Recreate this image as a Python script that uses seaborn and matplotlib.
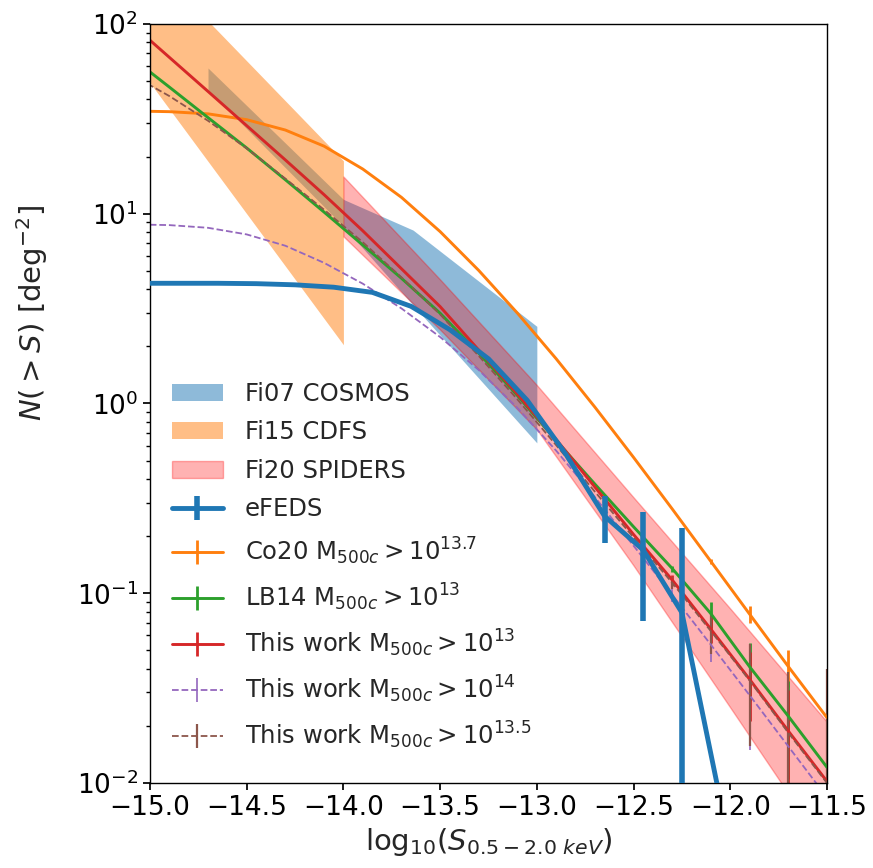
import numpy as np
import matplotlib
matplotlib.use("Agg")
import matplotlib.pyplot as plt
import seaborn as sns

# log10 flux grid of the model number counts
log_s = [-15.1, -14.9, -14.7, -14.5, -14.3, -14.1, -13.9, -13.7, -13.5, -13.3,
         -13.1, -12.9, -12.7, -12.5, -12.3, -12.1, -11.9, -11.7, -11.5]

co20_n = [34.8, 34.5, 33.6, 31.3, 27.6, 22.7, 17.2, 12.2, 8.05, 5.02,
          2.99, 1.72, 0.957, 0.52, 0.278, 0.147, 0.0776, 0.0411, 0.0221]
co20_err = [0] * 15 + [0.005, 0.008, 0.009, 0.0175]

lb14_n = [67.1, 46.5, 32.1, 22.2, 15.1, 10.2, 6.84, 4.57, 2.99, 1.84,
          1.10, 0.638, 0.376, 0.224, 0.135, 0.078, 0.041, 0.0225, 0.0121]
lb14_err = [0] * 14 + [0.005, 0.012, 0.014, 0.012, 0.01]

m13_n = [100.9, 66.7, 44.1, 29.1, 19.2, 12.6, 8.13, 5.13, 3.24, 1.91,
         1.12, 0.646, 0.363, 0.204, 0.1175, 0.0646, 0.0352, 0.0188, 0.0102]
m13_err = [0] * 14 + [0.008, 0.010, 0.014, 0.012, 0.01]

m14_n = [8.79, 8.71, 8.43, 7.78, 6.78, 5.51, 4.28, 3.17, 2.24, 1.50,
         0.946, 0.564, 0.321, 0.178, 0.098, 0.0535, 0.029, 0.0156, 0.0084]
m14_err = [0] * 14 + [0.008, 0.010, 0.014, 0.011, 0.01]

m135_n = [54.3, 41.7, 30.9, 22.1, 15.3, 10.5, 7.08, 4.62, 2.95, 1.78,
          1.05, 0.603, 0.343, 0.197, 0.1135, 0.0631, 0.0347, 0.0184, 0.0100]
m135_err = [0] * 14 + [0.008, 0.015, 0.019, 0.02, 0.03]

# eFEDS measured counts
efeds_s = [-15.05, -14.85, -14.65, -14.45, -14.25, -14.05, -13.85, -13.65,
           -13.45, -13.25, -13.05, -12.85, -12.65, -12.45, -12.25, -12.05]
efeds_n = [4.3, 4.3, 4.3, 4.28, 4.22, 4.1, 3.85, 3.25,
           2.45, 1.72, 1.04, 0.54, 0.255, 0.169, 0.079, 0.008]
efeds_err = [0] * 12 + [0.07, 0.098, 0.143, 0.0]

# literature envelopes
cosmos_s = [-14.7, -14.0, -13.64, -13.0]
cosmos_lo = [45, 8.6, 3.3, 0.62]
cosmos_hi = [58.6, 11.9, 8.2, 2.55]

cdfs_s = [-15.0, -14.0]
cdfs_lo = [49, 2.04]
cdfs_hi = [215, 19]

spiders_s = [-14.0, -13.5, -13.0, -12.5, -12.0, -11.5]
spiders_lo = [7.6, 2.45, 0.73, 0.14, 0.025, 0.0044]
spiders_hi = [15.7, 4.5, 1.25, 0.32, 0.083, 0.021]

x_ticks = [-15.0, -14.5, -14.0, -13.5, -13.0, -12.5, -12.0, -11.5]

sns.set_theme(style="ticks", context="notebook")
plt.rcParams.update({
    "font.family": ["DejaVu Sans"],
    "mathtext.fontset": "dejavusans",
    "axes.edgecolor": "black",
    "axes.linewidth": 1.0,
    "xtick.color": "black",
    "ytick.color": "black",
    "xtick.direction": "out",
    "ytick.direction": "out",
    "xtick.major.size": 5,
    "ytick.major.size": 5,
    "ytick.minor.size": 3,
})
pal = sns.color_palette("tab10")

fig = plt.figure(figsize=(8.73, 8.68), dpi=100)
ax = fig.add_axes([0.1718, 0.0979, 0.7755, 0.8745])

ax.fill_between(cosmos_s, cosmos_lo, cosmos_hi, facecolor=pal[0], alpha=0.5,
                linewidth=0, label="Fi07 COSMOS")
ax.fill_between(cdfs_s, cdfs_lo, cdfs_hi, facecolor=pal[1], alpha=0.5,
                linewidth=0, label="Fi15 CDFS")
ax.fill_between(spiders_s, spiders_lo, spiders_hi, color="red", alpha=0.3,
                label="Fi20 SPIDERS")

ax.errorbar(efeds_s, efeds_n, yerr=efeds_err, color=pal[0], lw=3.5,
            elinewidth=4, label="eFEDS", zorder=4)
ax.errorbar(log_s, co20_n, yerr=co20_err, color=pal[1], lw=2.1, elinewidth=2,
            label=r"Co20 M$_{500c}>10^{13.7}$")
ax.errorbar(log_s, lb14_n, yerr=lb14_err, color=pal[2], lw=2.1, elinewidth=2,
            label=r"LB14 M$_{500c}>10^{13}$")
ax.errorbar(log_s, m13_n, yerr=m13_err, color=pal[3], lw=2.1, elinewidth=2,
            label=r"This work M$_{500c}>10^{13}$")
ax.errorbar(log_s, m14_n, yerr=m14_err, color=pal[4], lw=1.3, ls="--",
            elinewidth=1.2, label=r"This work M$_{500c}>10^{14}$")
ax.errorbar(log_s, m135_n, yerr=m135_err, color=pal[5], lw=1.3, ls="--",
            elinewidth=1.6, label=r"This work M$_{500c}>10^{13.5}$")

ax.set_yscale("log")
ax.set_xlim(-15, -11.5)
ax.set_ylim(1e-2, 1e2)
ax.set_xticks(x_ticks)
ax.tick_params(axis="x", labelsize=19)
ax.tick_params(axis="y", labelsize=19)
for sp in ax.spines.values():
    sp.set_visible(True)

ax.set_xlabel(r"$\mathrm{log}_{10}(S_{0.5-2.0\ keV})$", fontsize=21)
ax.set_ylabel(r"$N(>S)$ [deg$^{-2}$]", fontsize=21)
ax.yaxis.set_label_coords(-0.148, 0.62)

ax.legend(loc="lower left", frameon=False, fontsize=17.5, handlelength=2.1,
          handletextpad=0.9, labelspacing=0.6, borderaxespad=0,
          bbox_to_anchor=(0.018, 0.029))

fig.savefig("out.png", dpi=100)
